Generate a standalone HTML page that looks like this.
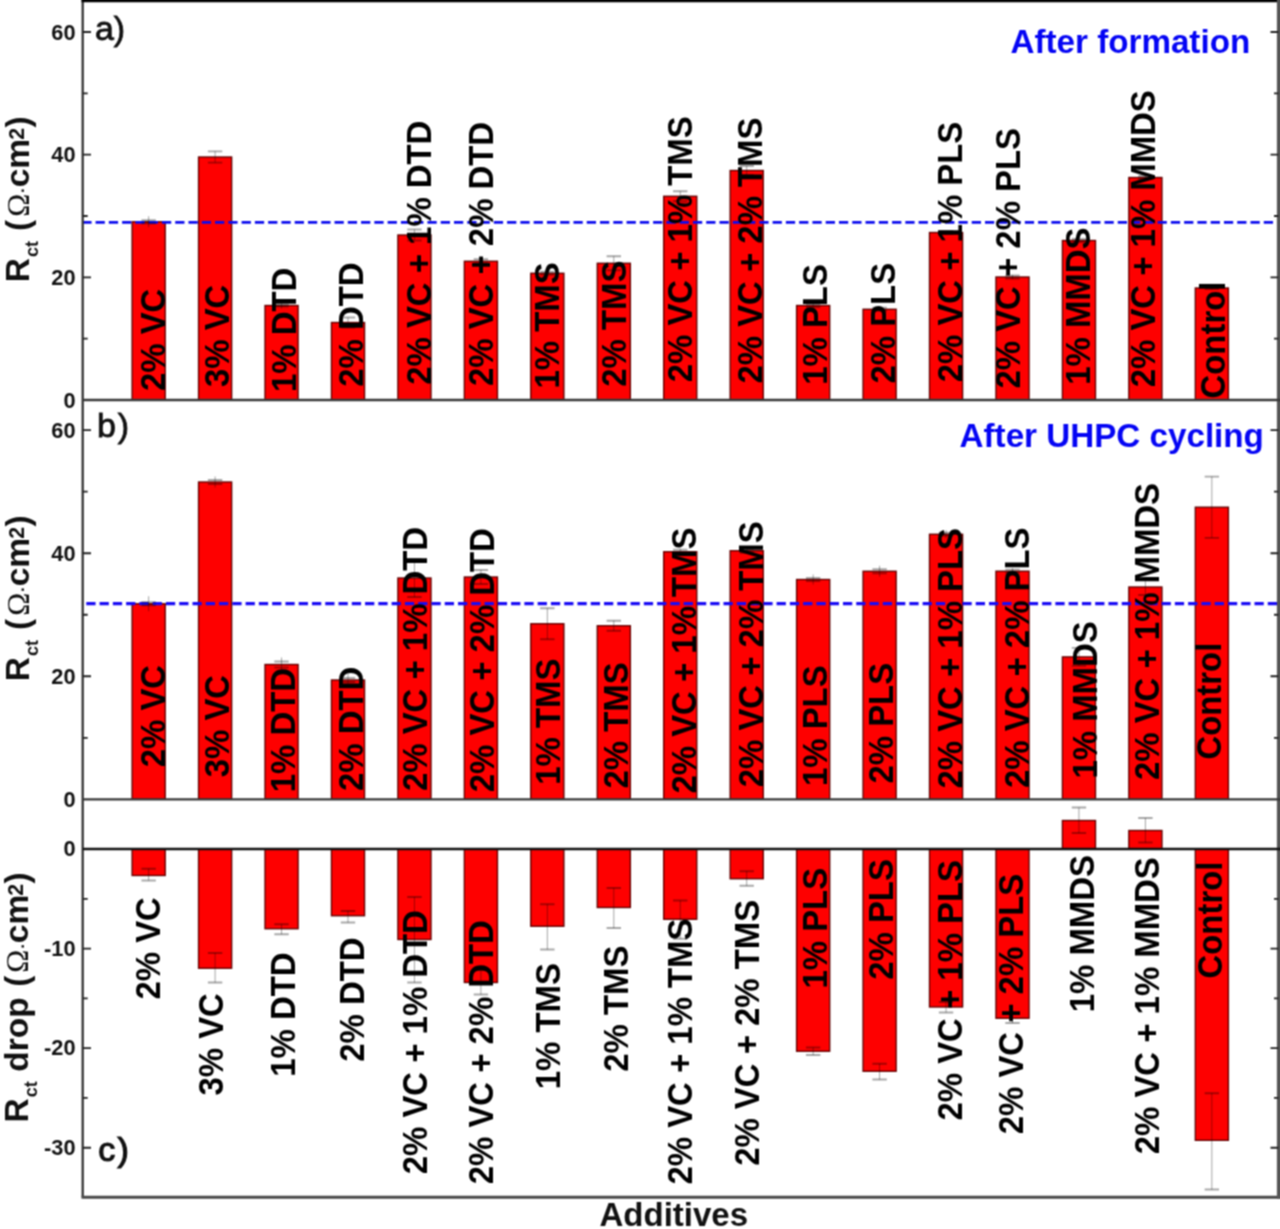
<!DOCTYPE html>
<html lang="en">
<head>
<meta charset="utf-8">
<title>Rct of cells with additives</title>
<style>
html,body{margin:0;padding:0;background:#fff;}
body{width:1280px;height:1229px;overflow:hidden;}
svg{display:block;font-family:"Liberation Sans",Arial,Helvetica,sans-serif;font-weight:bold;}
.bar{fill:#fe0000;stroke:#600000;stroke-width:1.35;}
.ax{stroke:#333;stroke-width:2.3;fill:none;}
.tk{stroke:#222;stroke-width:1.8;fill:none;}
.eb{stroke:#000;stroke-opacity:.36;stroke-width:1;fill:none;}
.ec{stroke:#000;stroke-opacity:.34;stroke-width:1.8;fill:none;}
.dash{stroke:#0c0cee;stroke-width:2.7;stroke-dasharray:9.25 4.025;fill:none;}
.lab{font-size:32.9px;fill:#000;}
.tl{font-size:21.8px;fill:#111;text-anchor:end;}
.yt{font-size:33.5px;fill:#111;}
.pn{font-size:34px;fill:#111;font-weight:normal;stroke:#111;stroke-width:.8;}
.xt{font-size:33px;fill:#111;}
.bl{font-size:33.2px;fill:#0404f4;}
</style>
</head>
<body>
<svg width="1280" height="1229" viewBox="0 0 1280 1229">
<defs><filter id="soft" x="0" y="0" width="100%" height="100%" color-interpolation-filters="sRGB"><feConvolveMatrix order="3" kernelMatrix="1 2 1 2 4 2 1 2 1" divisor="16" edgeMode="duplicate" preserveAlpha="false"/></filter></defs>
<rect x="0" y="0" width="1280" height="1229" fill="#ffffff"/>
<g filter="url(#soft)">

<g>
<rect class="bar" x="132.10" y="221.75" width="33.10" height="178.25"/>
<rect class="bar" x="198.55" y="157.00" width="33.10" height="243.00"/>
<rect class="bar" x="265.00" y="305.50" width="33.10" height="94.50"/>
<rect class="bar" x="331.45" y="322.50" width="33.10" height="77.50"/>
<rect class="bar" x="397.90" y="235.00" width="33.10" height="165.00"/>
<rect class="bar" x="464.35" y="261.25" width="33.10" height="138.75"/>
<rect class="bar" x="530.80" y="273.25" width="33.10" height="126.75"/>
<rect class="bar" x="597.25" y="263.25" width="33.10" height="136.75"/>
<rect class="bar" x="663.70" y="196.25" width="33.10" height="203.75"/>
<rect class="bar" x="730.15" y="170.50" width="33.10" height="229.50"/>
<rect class="bar" x="796.60" y="305.50" width="33.10" height="94.50"/>
<rect class="bar" x="863.05" y="309.25" width="33.10" height="90.75"/>
<rect class="bar" x="929.50" y="232.50" width="33.10" height="167.50"/>
<rect class="bar" x="995.95" y="277.00" width="33.10" height="123.00"/>
<rect class="bar" x="1062.40" y="240.50" width="33.10" height="159.50"/>
<rect class="bar" x="1128.85" y="177.50" width="33.10" height="222.50"/>
<rect class="bar" x="1195.30" y="288.00" width="33.10" height="112.00"/>
</g>
<g>
<rect class="bar" x="132.10" y="603.75" width="33.10" height="195.55"/>
<rect class="bar" x="198.55" y="482.00" width="33.10" height="317.30"/>
<rect class="bar" x="265.00" y="664.50" width="33.10" height="134.80"/>
<rect class="bar" x="331.45" y="680.00" width="33.10" height="119.30"/>
<rect class="bar" x="397.90" y="578.00" width="33.10" height="221.30"/>
<rect class="bar" x="464.35" y="577.00" width="33.10" height="222.30"/>
<rect class="bar" x="530.80" y="623.75" width="33.10" height="175.55"/>
<rect class="bar" x="597.25" y="625.75" width="33.10" height="173.55"/>
<rect class="bar" x="663.70" y="551.75" width="33.10" height="247.55"/>
<rect class="bar" x="730.15" y="550.75" width="33.10" height="248.55"/>
<rect class="bar" x="796.60" y="579.50" width="33.10" height="219.80"/>
<rect class="bar" x="863.05" y="571.25" width="33.10" height="228.05"/>
<rect class="bar" x="929.50" y="534.25" width="33.10" height="265.05"/>
<rect class="bar" x="995.95" y="571.20" width="33.10" height="228.10"/>
<rect class="bar" x="1062.40" y="656.90" width="33.10" height="142.40"/>
<rect class="bar" x="1128.85" y="587.00" width="33.10" height="212.30"/>
<rect class="bar" x="1195.30" y="507.20" width="33.10" height="292.10"/>
</g>
<g>
<rect class="bar" x="132.10" y="849.00" width="33.10" height="26.50"/>
<rect class="bar" x="198.55" y="849.00" width="33.10" height="119.25"/>
<rect class="bar" x="265.00" y="849.00" width="33.10" height="79.75"/>
<rect class="bar" x="331.45" y="849.00" width="33.10" height="66.75"/>
<rect class="bar" x="397.90" y="849.00" width="33.10" height="90.50"/>
<rect class="bar" x="464.35" y="849.00" width="33.10" height="133.50"/>
<rect class="bar" x="530.80" y="849.00" width="33.10" height="77.25"/>
<rect class="bar" x="597.25" y="849.00" width="33.10" height="58.50"/>
<rect class="bar" x="663.70" y="849.00" width="33.10" height="70.25"/>
<rect class="bar" x="730.15" y="849.00" width="33.10" height="29.75"/>
<rect class="bar" x="796.60" y="849.00" width="33.10" height="202.25"/>
<rect class="bar" x="863.05" y="849.00" width="33.10" height="222.25"/>
<rect class="bar" x="929.50" y="849.00" width="33.10" height="158.00"/>
<rect class="bar" x="995.95" y="849.00" width="33.10" height="169.25"/>
<rect class="bar" x="1062.40" y="820.50" width="33.10" height="28.50"/>
<rect class="bar" x="1128.85" y="830.50" width="33.10" height="18.50"/>
<rect class="bar" x="1195.30" y="849.00" width="33.10" height="291.30"/>
</g>
<path class="dash" d="M82.3 222.4H1274.6"/>
<path class="dash" d="M86.3 603.6H1277" style="stroke-width:3.1;stroke:#1a0cf4"/>
<g>
<path class="eb" d="M148.65 216.25V227.25"/><path class="ec" d="M141.45 220.25H155.85M141.45 223.25H155.85"/>
<path class="eb" d="M215.10 151.30V162.70"/><path class="ec" d="M207.90 151.30H222.30M207.90 162.70H222.30"/>
<path class="eb" d="M281.55 302.50V308.50"/><path class="ec" d="M274.35 304.50H288.75M274.35 306.50H288.75"/>
<path class="eb" d="M348.00 317.50V327.50"/><path class="ec" d="M340.80 317.50H355.20M340.80 327.50H355.20"/>
<path class="eb" d="M414.45 229.50V240.50"/><path class="ec" d="M407.25 229.50H421.65M407.25 240.50H421.65"/>
<path class="eb" d="M480.90 258.75V263.75"/><path class="ec" d="M473.70 259.25H488.10M473.70 263.25H488.10"/>
<path class="eb" d="M547.35 271.25V275.25"/><path class="ec" d="M540.15 271.75H554.55M540.15 274.75H554.55"/>
<path class="eb" d="M613.80 256.25V270.25"/><path class="ec" d="M606.60 256.25H621.00M606.60 270.25H621.00"/>
<path class="eb" d="M680.25 191.25V201.25"/><path class="ec" d="M673.05 191.25H687.45M673.05 201.25H687.45"/>
<path class="eb" d="M746.70 166.00V175.00"/><path class="ec" d="M739.50 166.00H753.90M739.50 175.00H753.90"/>
<path class="eb" d="M813.15 303.50V307.50"/><path class="ec" d="M805.95 304.00H820.35M805.95 307.00H820.35"/>
<path class="eb" d="M879.60 307.25V311.25"/><path class="ec" d="M872.40 307.75H886.80M872.40 310.75H886.80"/>
<path class="eb" d="M946.05 230.50V234.50"/><path class="ec" d="M938.85 231.00H953.25M938.85 234.00H953.25"/>
<path class="eb" d="M1012.50 275.00V279.00"/><path class="ec" d="M1005.30 275.50H1019.70M1005.30 278.50H1019.70"/>
<path class="eb" d="M1078.95 238.50V242.50"/><path class="ec" d="M1071.75 239.00H1086.15M1071.75 242.00H1086.15"/>
<path class="eb" d="M1145.40 175.50V179.50"/><path class="ec" d="M1138.20 176.00H1152.60M1138.20 179.00H1152.60"/>
<path class="eb" d="M1211.85 286.50V289.50"/><path class="ec" d="M1204.65 287.00H1219.05M1204.65 289.00H1219.05"/>
</g>
<g>
<path class="eb" d="M148.65 596.25V611.25"/><path class="ec" d="M141.45 602.25H155.85M141.45 605.25H155.85"/>
<path class="eb" d="M215.10 476.50V487.50"/><path class="ec" d="M207.90 480.00H222.30M207.90 484.00H222.30"/>
<path class="eb" d="M281.55 657.50V671.50"/><path class="ec" d="M274.35 661.50H288.75M274.35 667.50H288.75"/>
<path class="eb" d="M348.00 674.00V686.00"/><path class="ec" d="M340.80 678.00H355.20M340.80 682.00H355.20"/>
<path class="eb" d="M414.45 559.00V597.00"/><path class="ec" d="M407.25 559.00H421.65M407.25 597.00H421.65"/>
<path class="eb" d="M480.90 570.00V584.00"/><path class="ec" d="M473.70 570.00H488.10M473.70 584.00H488.10"/>
<path class="eb" d="M547.35 608.25V639.25"/><path class="ec" d="M540.15 608.25H554.55M540.15 639.25H554.55"/>
<path class="eb" d="M613.80 620.75V630.75"/><path class="ec" d="M606.60 620.75H621.00M606.60 630.75H621.00"/>
<path class="eb" d="M680.25 548.75V554.75"/><path class="ec" d="M673.05 549.75H687.45M673.05 553.75H687.45"/>
<path class="eb" d="M746.70 547.75V553.75"/><path class="ec" d="M739.50 548.75H753.90M739.50 552.75H753.90"/>
<path class="eb" d="M813.15 574.50V584.50"/><path class="ec" d="M805.95 578.00H820.35M805.95 581.00H820.35"/>
<path class="eb" d="M879.60 565.75V576.75"/><path class="ec" d="M872.40 569.25H886.80M872.40 573.25H886.80"/>
<path class="eb" d="M946.05 530.25V538.25"/><path class="ec" d="M938.85 532.75H953.25M938.85 535.75H953.25"/>
<path class="eb" d="M1012.50 568.20V574.20"/><path class="ec" d="M1005.30 569.70H1019.70M1005.30 572.70H1019.70"/>
<path class="eb" d="M1078.95 647.90V665.90"/><path class="ec" d="M1071.75 647.90H1086.15M1071.75 665.90H1086.15"/>
<path class="eb" d="M1145.40 579.00V595.00"/><path class="ec" d="M1138.20 579.00H1152.60M1138.20 595.00H1152.60"/>
<path class="eb" d="M1211.85 476.60V537.80"/><path class="ec" d="M1204.65 476.60H1219.05M1204.65 537.80H1219.05"/>
</g>
<g>
<path class="eb" d="M148.65 868.75V880.50"/><path class="ec" d="M141.45 868.75H155.85M141.45 880.50H155.85"/>
<path class="eb" d="M215.10 953.00V982.50"/><path class="ec" d="M207.90 953.00H222.30M207.90 982.50H222.30"/>
<path class="eb" d="M281.55 924.25V934.25"/><path class="ec" d="M274.35 924.25H288.75M274.35 934.25H288.75"/>
<path class="eb" d="M348.00 911.00V922.50"/><path class="ec" d="M340.80 911.00H355.20M340.80 922.50H355.20"/>
<path class="eb" d="M414.45 897.00V982.50"/><path class="ec" d="M407.25 897.00H421.65M407.25 982.50H421.65"/>
<path class="eb" d="M480.90 970.00V994.50"/><path class="ec" d="M473.70 970.00H488.10M473.70 994.50H488.10"/>
<path class="eb" d="M547.35 904.25V949.50"/><path class="ec" d="M540.15 904.25H554.55M540.15 949.50H554.55"/>
<path class="eb" d="M613.80 888.00V928.00"/><path class="ec" d="M606.60 888.00H621.00M606.60 928.00H621.00"/>
<path class="eb" d="M680.25 900.50V938.75"/><path class="ec" d="M673.05 900.50H687.45M673.05 938.75H687.45"/>
<path class="eb" d="M746.70 871.25V885.75"/><path class="ec" d="M739.50 871.25H753.90M739.50 885.75H753.90"/>
<path class="eb" d="M813.15 1047.50V1055.00"/><path class="ec" d="M805.95 1047.50H820.35M805.95 1055.00H820.35"/>
<path class="eb" d="M879.60 1063.75V1079.50"/><path class="ec" d="M872.40 1063.75H886.80M872.40 1079.50H886.80"/>
<path class="eb" d="M946.05 1002.00V1012.50"/><path class="ec" d="M938.85 1002.00H953.25M938.85 1012.50H953.25"/>
<path class="eb" d="M1012.50 1013.00V1023.00"/><path class="ec" d="M1005.30 1013.00H1019.70M1005.30 1023.00H1019.70"/>
<path class="eb" d="M1078.95 807.50V833.00"/><path class="ec" d="M1071.75 807.50H1086.15M1071.75 833.00H1086.15"/>
<path class="eb" d="M1145.40 818.00V842.50"/><path class="ec" d="M1138.20 818.00H1152.60M1138.20 842.50H1152.60"/>
<path class="eb" d="M1211.85 1093.25V1189.50"/><path class="ec" d="M1204.65 1093.25H1219.05M1204.65 1189.50H1219.05"/>
</g>
<path class="ax" d="M82.7 0V1197.3"/>
<path class="ax" d="M81.5 1197.3H1280" style="stroke:#484848;stroke-width:3"/>
<path class="ax" d="M81.5 1.0H1280" style="stroke:#000;stroke-width:2.4"/>
<path class="ax" d="M1278.5 0V1198.8" style="stroke:#555;stroke-width:3.2"/>
<path class="ax" d="M82.7 400.0H1280M82.7 799.3H1280" style="stroke:#383838;stroke-width:2.3"/>
<path class="ax" d="M82.7 849.0H1280" style="stroke:#111;stroke-width:2.5"/>
<path class="tk" d="M82.7 277.33h8.3M1278.5 277.33h-8M82.7 154.67h8.3M1278.5 154.67h-8M82.7 32.00h8.3M1278.5 32.00h-8M82.7 338.67h5M1278.5 338.67h-4.5M82.7 216.00h5M1278.5 216.00h-4.5M82.7 93.33h5M1278.5 93.33h-4.5"/>
<path class="tk" d="M82.7 676.27h8.3M1278.5 676.27h-8M82.7 553.23h8.3M1278.5 553.23h-8M82.7 430.20h8.3M1278.5 430.20h-8M82.7 737.78h5M1278.5 737.78h-4.5M82.7 614.75h5M1278.5 614.75h-4.5M82.7 491.72h5M1278.5 491.72h-4.5"/>
<path class="tk" d="M82.7 948.58h8.3M1278.5 948.58h-8M82.7 1048.17h8.3M1278.5 1048.17h-8M82.7 1147.75h8.3M1278.5 1147.75h-8M82.7 898.79h5M1278.5 898.79h-4.5M82.7 998.38h5M1278.5 998.38h-4.5M82.7 1097.96h5M1278.5 1097.96h-4.5"/>
<text class="tl" x="75.6" y="407.80">0</text>
<text class="tl" x="75.6" y="285.13">20</text>
<text class="tl" x="75.6" y="162.47">40</text>
<text class="tl" x="75.6" y="39.80">60</text>
<text class="tl" x="75.6" y="806.90">0</text>
<text class="tl" x="75.6" y="683.87">20</text>
<text class="tl" x="75.6" y="560.83">40</text>
<text class="tl" x="75.6" y="437.80">60</text>
<text class="tl" x="75.6" y="856.30">0</text>
<text class="tl" x="75.6" y="955.88">-10</text>
<text class="tl" x="75.6" y="1055.47">-20</text>
<text class="tl" x="75.6" y="1155.05">-30</text>
<text class="yt" transform="translate(29.0 280.0) rotate(-90)"><tspan x="-2.35" y="0">R</tspan><tspan x="22.9" y="8.6" font-size="18">ct</tspan><tspan x="49.10" y="0">(</tspan><tspan x="63.15" y="-0.3" font-family="'Liberation Serif','DejaVu Serif',serif" font-weight="normal" font-size="31">Ω</tspan><tspan x="87.10" y="-0.6" font-size="17">·</tspan><tspan x="92.70" y="0">cm</tspan><tspan x="140.20" y="-4.9" font-size="21.5">2</tspan><tspan x="152.45" y="0">)</tspan></text>
<text class="yt" transform="translate(29.0 679.0) rotate(-90)"><tspan x="-2.35" y="0">R</tspan><tspan x="22.9" y="8.6" font-size="18">ct</tspan><tspan x="49.10" y="0">(</tspan><tspan x="63.15" y="-0.3" font-family="'Liberation Serif','DejaVu Serif',serif" font-weight="normal" font-size="31">Ω</tspan><tspan x="87.10" y="-0.6" font-size="17">·</tspan><tspan x="92.70" y="0">cm</tspan><tspan x="140.20" y="-4.9" font-size="21.5">2</tspan><tspan x="152.45" y="0">)</tspan></text>
<text class="yt" transform="translate(28.3 1120.05) rotate(-90)"><tspan x="-2.35" y="0">R</tspan><tspan x="22.9" y="8.6" font-size="18">ct</tspan><tspan x="48.4" y="0">drop</tspan><tspan x="133.30" y="0">(</tspan><tspan x="147.35" y="-0.3" font-family="'Liberation Serif','DejaVu Serif',serif" font-weight="normal" font-size="31">Ω</tspan><tspan x="171.30" y="-0.6" font-size="17">·</tspan><tspan x="176.90" y="0">cm</tspan><tspan x="224.40" y="-4.9" font-size="21.5">2</tspan><tspan x="236.65" y="0">)</tspan></text>
<text class="pn" x="94.9" y="40.3">a)</text>
<text class="pn" x="96.9" y="436.7">b<tspan dx="2">)</tspan></text>
<text class="pn" x="98.3" y="1161.4" style="stroke-width:1.2">c<tspan dx="2.2">)</tspan></text>
<text class="bl" x="1010.5" y="52.5">After formation</text>
<text class="bl" x="959.6" y="446.8">After UHPC cycling</text>
<text class="xt" x="599.5" y="1226">Additives</text>
<g>
<text class="lab" transform="translate(164.95 391.00) rotate(-90) scale(1 1.06)">2% VC</text>
<text class="lab" transform="translate(229.20 387.00) rotate(-90) scale(1 1.06)">3% VC</text>
<text class="lab" transform="translate(295.70 392.00) rotate(-90) scale(1 1.06)">1% DTD</text>
<text class="lab" transform="translate(362.95 386.75) rotate(-90) scale(1 1.06)">2% DTD</text>
<text class="lab" transform="translate(431.20 384.75) rotate(-90) scale(1 1.06)">2% VC + 1% DTD</text>
<text class="lab" transform="translate(492.95 386.00) rotate(-90) scale(1 1.06)">2% VC + 2% DTD</text>
<text class="lab" transform="translate(559.20 388.50) rotate(-90) scale(1 1.06)">1% TMS</text>
<text class="lab" transform="translate(626.20 386.75) rotate(-90) scale(1 1.06)">2% TMS</text>
<text class="lab" transform="translate(691.70 382.25) rotate(-90) scale(1 1.06)">2% VC + 1% TMS</text>
<text class="lab" transform="translate(761.70 383.50) rotate(-90) scale(1 1.06)">2% VC + 2% TMS</text>
<text class="lab" transform="translate(826.70 384.75) rotate(-90) scale(1 1.06)">1% PLS</text>
<text class="lab" transform="translate(895.45 383.50) rotate(-90) scale(1 1.06)">2% PLS</text>
<text class="lab" transform="translate(961.70 382.25) rotate(-90) scale(1 1.06)">2% VC + 1% PLS</text>
<text class="lab" transform="translate(1020.45 388.50) rotate(-90) scale(1 1.06)">2% VC + 2% PLS</text>
<text class="lab" transform="translate(1090.45 384.75) rotate(-90) scale(1 1.06)">1% MMDS</text>
<text class="lab" transform="translate(1155.45 387.25) rotate(-90) scale(1 1.06)">2% VC + 1% MMDS</text>
<text class="lab" transform="translate(1225.45 398.50) rotate(-90) scale(1 1.06)">Control</text>
</g>
<g>
<text class="lab" transform="translate(165.45 767.25) rotate(-90) scale(1 1.06)">2% VC</text>
<text class="lab" transform="translate(229.20 777.25) rotate(-90) scale(1 1.06)">3% VC</text>
<text class="lab" transform="translate(294.70 792.25) rotate(-90) scale(1 1.06)">1% DTD</text>
<text class="lab" transform="translate(362.95 791.00) rotate(-90) scale(1 1.06)">2% DTD</text>
<text class="lab" transform="translate(426.70 791.00) rotate(-90) scale(1 1.06)">2% VC + 1% DTD</text>
<text class="lab" transform="translate(494.20 792.25) rotate(-90) scale(1 1.06)">2% VC + 2% DTD</text>
<text class="lab" transform="translate(560.45 784.75) rotate(-90) scale(1 1.06)">1% TMS</text>
<text class="lab" transform="translate(627.95 788.50) rotate(-90) scale(1 1.06)">2% TMS</text>
<text class="lab" transform="translate(695.70 793.50) rotate(-90) scale(1 1.06)">2% VC + 1% TMS</text>
<text class="lab" transform="translate(762.95 787.25) rotate(-90) scale(1 1.06)">2% VC + 2% TMS</text>
<text class="lab" transform="translate(827.20 786.00) rotate(-90) scale(1 1.06)">1% PLS</text>
<text class="lab" transform="translate(892.95 783.50) rotate(-90) scale(1 1.06)">2% PLS</text>
<text class="lab" transform="translate(961.70 788.50) rotate(-90) scale(1 1.06)">2% VC + 1% PLS</text>
<text class="lab" transform="translate(1029.20 788.00) rotate(-90) scale(1 1.06)">2% VC + 2% PLS</text>
<text class="lab" transform="translate(1096.80 778.50) rotate(-90) scale(1 1.06)">1% MMDS</text>
<text class="lab" transform="translate(1159.20 780.00) rotate(-90) scale(1 1.06)">2% VC + 1% MMDS</text>
<text class="lab" transform="translate(1221.20 759.60) rotate(-90) scale(1 1.06)">Control</text>
</g>
<g>
<text class="lab" transform="translate(160.45 999.50) rotate(-90) scale(1 1.06)">2% VC</text>
<text class="lab" transform="translate(222.95 1095.50) rotate(-90) scale(1 1.06)">3% VC</text>
<text class="lab" transform="translate(295.45 1076.75) rotate(-90) scale(1 1.06)">1% DTD</text>
<text class="lab" transform="translate(364.20 1061.75) rotate(-90) scale(1 1.06)">2% DTD</text>
<text class="lab" transform="translate(426.70 1174.25) rotate(-90) scale(1 1.06)">2% VC + 1% DTD</text>
<text class="lab" transform="translate(492.95 1184.25) rotate(-90) scale(1 1.06)">2% VC + 2% DTD</text>
<text class="lab" transform="translate(560.45 1089.25) rotate(-90) scale(1 1.06)">1% TMS</text>
<text class="lab" transform="translate(627.95 1071.75) rotate(-90) scale(1 1.06)">2% TMS</text>
<text class="lab" transform="translate(691.70 1184.50) rotate(-90) scale(1 1.06)">2% VC + 1% TMS</text>
<text class="lab" transform="translate(759.20 1165.80) rotate(-90) scale(1 1.06)">2% VC + 2% TMS</text>
<text class="lab" transform="translate(827.20 988.50) rotate(-90) scale(1 1.06)">1% PLS</text>
<text class="lab" transform="translate(892.95 979.75) rotate(-90) scale(1 1.06)">2% PLS</text>
<text class="lab" transform="translate(961.70 1120.50) rotate(-90) scale(1 1.06)">2% VC + 1% PLS</text>
<text class="lab" transform="translate(1022.95 1134.25) rotate(-90) scale(1 1.06)">2% VC + 2% PLS</text>
<text class="lab" transform="translate(1094.20 1012.25) rotate(-90) scale(1 1.06)">1% MMDS</text>
<text class="lab" transform="translate(1158.70 1154.25) rotate(-90) scale(1 1.06)">2% VC + 1% MMDS</text>
<text class="lab" transform="translate(1221.70 978.50) rotate(-90) scale(1 1.06)">Control</text>
</g>
</g>
</svg>
</body>
</html>
